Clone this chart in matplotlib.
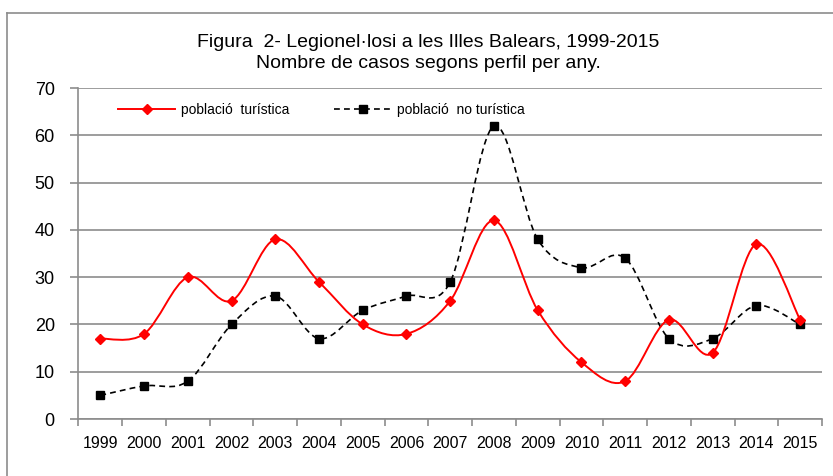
import matplotlib
matplotlib.use("Agg")
import matplotlib.pyplot as plt
from matplotlib.path import Path
from matplotlib.patches import PathPatch
from matplotlib.lines import Line2D

# ── data ──────────────────────────────────────────────────────────────────────
YEARS = ["1999", "2000", "2001", "2002", "2003", "2004", "2005", "2006", "2007",
         "2008", "2009", "2010", "2011", "2012", "2013", "2014", "2015"]
TURISTICA    = [17, 18, 30, 25, 38, 29, 20, 18, 25, 42, 23, 12, 8, 21, 14, 37, 21]
NO_TURISTICA = [5, 7, 8, 20, 26, 17, 23, 26, 29, 62, 38, 32, 34, 17, 17, 24, 20]

TITLE = "Figura  2- Legionel·losi a les Illes Balears, 1999-2015\nNombre de casos segons perfil per any."
LBL_T = "població  turística"
LBL_N = "població  no turística"

GRID_GRAY = "#8c8c8c"

plt.rcParams.update({
    "font.family": ["Liberation Sans", "DejaVu Sans"],
    "font.size": 11.5,
})


def _smooth_path(xs, ys):
    # Excel-style smoothed line: cubic Bezier through the points
    n = len(xs)
    verts = [(xs[0], ys[0])]
    codes = [Path.MOVETO]
    for i in range(n - 1):
        x0, y0 = xs[max(i - 1, 0)], ys[max(i - 1, 0)]
        x1, y1 = xs[i], ys[i]
        x2, y2 = xs[i + 1], ys[i + 1]
        x3, y3 = xs[min(i + 2, n - 1)], ys[min(i + 2, n - 1)]
        c1 = (x1 + (x2 - x0) / 6.0, y1 + (y2 - y0) / 6.0)
        c2 = (x2 - (x3 - x1) / 6.0, y2 - (y3 - y1) / 6.0)
        verts += [c1, c2, (x2, y2)]
        codes += [Path.CURVE4] * 3
    return Path(verts, codes)


fig = plt.figure(figsize=(8.33, 4.76), dpi=100)
ax = fig.add_axes([0.0942, 0.1197, 0.8926, 0.6954])

x = list(range(len(YEARS)))

# outer chart frame (clipped on right/bottom in the reference)
fy = 1 - 13 / 476
fx = 7 / 833
fig.add_artist(Line2D([fx, fx], [0, fy], transform=fig.transFigure,
                      color=GRID_GRAY, linewidth=1.2))
fig.add_artist(Line2D([fx, 1], [fy, fy], transform=fig.transFigure,
                      color=GRID_GRAY, linewidth=1.2))

# series
ax.add_patch(PathPatch(_smooth_path(x, NO_TURISTICA), facecolor="none",
                       edgecolor="black", linewidth=1.2,
                       linestyle=(0, (3.5, 2.5)), zorder=3))
ax.plot(x, NO_TURISTICA, linestyle="none", marker="s", markersize=6,
        color="black", zorder=4)
ax.add_patch(PathPatch(_smooth_path(x, TURISTICA), facecolor="none",
                       edgecolor="red", linewidth=1.4, zorder=5))
ax.plot(x, TURISTICA, linestyle="none", marker="D", markersize=5.5,
        color="red", zorder=6)

# axes
ax.set_xlim(-0.5, len(YEARS) - 0.5)
ax.set_ylim(0, 70)
ax.set_yticks(range(0, 71, 10))
ax.yaxis.grid(True, color=GRID_GRAY, linewidth=1.2)
ax.set_axisbelow(True)
ax.set_xticks(x)
ax.set_xticklabels(YEARS)
ax.set_xticks([i - 0.5 for i in range(len(YEARS) + 1)], minor=True)
ax.tick_params(axis="x", which="major", length=0, pad=12, labelsize=11.5)
ax.tick_params(axis="x", which="minor", length=5, color=GRID_GRAY, width=1.2)
ax.tick_params(axis="y", length=6, color=GRID_GRAY, width=1.2, pad=11,
               labelsize=13)
for s in ["top", "right"]:
    ax.spines[s].set_visible(False)
for s in ["left", "bottom"]:
    ax.spines[s].set_color(GRID_GRAY)
    ax.spines[s].set_linewidth(1.2)

# legend
handles = [
    Line2D([0], [0], color="red", linewidth=1.4, marker="D", markersize=5),
    Line2D([0], [0], color="black", linewidth=1.2, linestyle=(0, (3.5, 2.5)),
           marker="s", markersize=6),
]
ax.legend(handles, [LBL_T, LBL_N], ncol=2, frameon=False, fontsize=10,
          loc="center left", bbox_to_anchor=(0.046, 0.935),
          handlelength=4.1, handletextpad=0.45, columnspacing=3.2,
          borderaxespad=0)

fig.text(0.514, 0.889, TITLE, ha="center", va="center", fontsize=14,
         linespacing=1.3)

fig.savefig("out.png", dpi=100)
